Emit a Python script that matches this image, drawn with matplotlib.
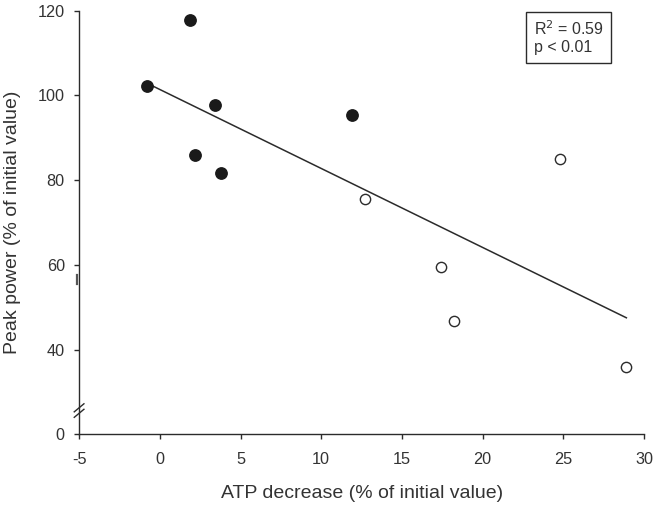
import matplotlib

matplotlib.use("Agg")
import matplotlib.pyplot as plt
import numpy as np

plt.rcParams["font.family"] = ["Liberation Sans", "DejaVu Sans"]
plt.rcParams["axes.unicode_minus"] = False

# filled circles (group 1)
atp_filled = [-0.8, 1.9, 3.4, 2.2, 3.8, 11.9]
power_filled = [102.3, 117.8, 97.7, 86.0, 81.7, 95.3]
# open circles (group 2)
atp_open = [12.7, 24.8, 17.4, 18.2, 28.9]
power_open = [75.5, 84.9, 59.5, 46.8, 35.9]

x_ticks = [-5, 0, 5, 10, 15, 20, 25, 30]
# the y axis is broken: the 0 tick sits one step below 40
y_ticks = [20, 40, 60, 80, 100, 120]
y_tick_labels = ["0", "40", "60", "80", "100", "120"]
stats_text = "R$^2$ = 0.59\np < 0.01"

DARK = "#2b2b2b"
TEXT = "#333333"

fig = plt.figure(figsize=(6.58, 5.09), dpi=100)
ax = fig.add_axes([0.1202, 0.1468, 0.8587, 0.8322])

all_x = np.array(atp_filled + atp_open)
all_y = np.array(power_filled + power_open)
slope, intercept = np.polyfit(all_x, all_y, 1)
xx = np.array([all_x.min(), all_x.max()])
ax.plot(xx, slope * xx + intercept, color=DARK, linewidth=1.1, zorder=2)

ax.plot(atp_filled, power_filled, "o", color="#1a1a1a", markersize=8.2, zorder=3)
ax.plot(atp_open, power_open, "o", markerfacecolor="white", markeredgecolor=DARK,
        markeredgewidth=1.0, markersize=7.4, zorder=3)

ax.set_xlim(-5, 30)
ax.set_ylim(20, 120)
ax.set_xticks(x_ticks)
ax.set_yticks(y_ticks, labels=y_tick_labels)
ax.tick_params(direction="out", length=3.8, width=1.0, color=DARK, labelsize=11.7,
               labelcolor=TEXT)
ax.tick_params(axis="x", pad=9)
ax.tick_params(axis="y", pad=6.5)
for side in ("top", "right"):
    ax.spines[side].set_visible(False)
for side in ("left", "bottom"):
    ax.spines[side].set_color(DARK)
    ax.spines[side].set_linewidth(1.0)

# axis break marks
for dy in (0.0, 1.3):
    ax.plot([-5.3, -4.7], [24.0 + dy, 25.9 + dy], color=DARK, linewidth=1.0,
            clip_on=False, zorder=4)
# small stray mark left of the axis
ax.plot([-5.1, -5.1], [55.5, 57.5], color="#555555", linewidth=1.6, clip_on=False)

ax.set_xlabel("ATP decrease (% of initial value)", fontsize=14, color=TEXT, labelpad=13)
ax.set_ylabel("Peak power (% of initial value)", fontsize=14, color=TEXT, labelpad=12)

ax.text(0.8046, 0.9788, stats_text, transform=ax.transAxes, ha="left", va="top",
        fontsize=11.5, color=TEXT, linespacing=1.1,
        bbox=dict(boxstyle="square,pad=0.5", facecolor="white", edgecolor=DARK, linewidth=1.0))

fig.savefig("out.png", dpi=100)
plt.close(fig)
